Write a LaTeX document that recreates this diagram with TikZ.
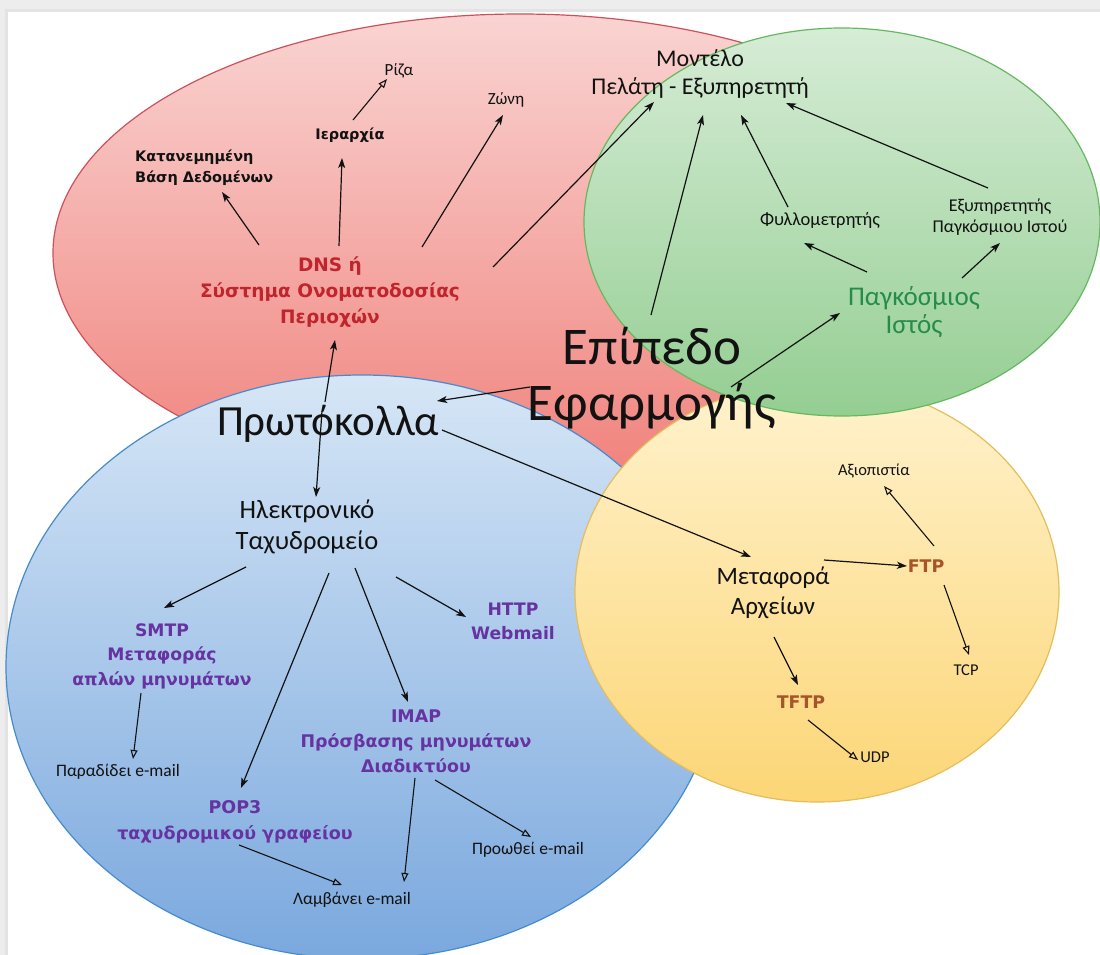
\documentclass[tikz,border=0pt]{standalone}
\usepackage{fontspec}
\setmainfont{Carlito}
\newfontfamily\dvsans{DejaVu Sans}
\usetikzlibrary{arrows.meta}

\definecolor{ink}{RGB}{18,18,18}
\definecolor{dnsred}{RGB}{192,36,44}
\definecolor{webgreen}{RGB}{38,140,74}
\definecolor{mailpurple}{RGB}{102,51,160}
\definecolor{ftpbrown}{RGB}{168,84,40}
\definecolor{redtop}{RGB}{249,212,210}
\definecolor{redbot}{RGB}{240,128,122}
\definecolor{redline}{RGB}{205,80,90}
\definecolor{greentop}{RGB}{214,236,214}
\definecolor{greenbot}{RGB}{148,206,146}
\definecolor{greenline}{RGB}{100,185,95}
\definecolor{bluetop}{RGB}{214,230,246}
\definecolor{bluebot}{RGB}{122,168,222}
\definecolor{blueline}{RGB}{70,140,205}
\definecolor{yeltop}{RGB}{255,242,205}
\definecolor{yelbot}{RGB}{252,214,118}
\definecolor{yelline}{RGB}{228,190,90}

\newcommand\setfs[2]{\fontsize{#1}{#2}\selectfont}

\tikzset{
  zone/.style={line width=1.2pt},
  redzone/.style={zone, draw=redline, top color=redtop, bottom color=redbot},
  greenzone/.style={zone, draw=greenline, top color=greentop, bottom color=greenbot},
  bluezone/.style={zone, draw=blueline, top color=bluetop, bottom color=bluebot},
  yelzone/.style={zone, draw=yelline, top color=yeltop, bottom color=yelbot},
  lbl/.style={inner sep=0pt, align=center, text=ink},
  bld/.style={lbl, font=\dvsans\bfseries\setfs{17.4}{25}},
  small/.style={lbl, font=\setfs{17.5}{21}},
  conn/.style={line width=1.2pt, draw=ink, -{Stealth[length=10pt,width=7pt,inset=2.5pt]}},
  oconn/.style={line width=1.1pt, draw=ink, -{Triangle[open,length=9pt,width=7pt]}}
}

\begin{document}
\begin{tikzpicture}[x=1pt,y=-1pt]
\useasboundingbox (0,0) rectangle (1100,955);
% page and its soft edge
\fill[black!7] (0,0) rectangle (1100,955);
\fill[black!11] (5,9) rectangle (1100,955);
\fill[white] (8,12) rectangle (1100,955);

% the four areas
\draw[redzone] (520,253) ellipse [x radius=467pt, y radius=239pt];
\draw[bluezone] (362,667) ellipse [x radius=356pt, y radius=292pt];
\draw[yelzone] (817,592) ellipse [x radius=242pt, y radius=210pt];
\draw[greenzone] (842,222) ellipse [x radius=258pt, y radius=194pt];

% centre
\node[lbl, font=\setfs{53}{56}] (app) at (652,378) {Επίπεδο\\Εφαρμογής};
\node[lbl, font=\setfs{43}{46}] (proto) at (328,424) {Πρωτόκολλα};

% naming system
\node[bld, text=dnsred, font=\dvsans\bfseries\setfs{18.5}{26}] (dns) at (330,292) {DNS ή\\Σύστημα Ονοματοδοσίας\\Περιοχών};
\node[bld, align=left, anchor=west, font=\dvsans\bfseries\setfs{14.5}{21}] (kat) at (135,168) {Κατανεμημένη\\Βάση Δεδομένων};
\node[bld, font=\dvsans\bfseries\setfs{14.5}{21}] (ier) at (350,135) {Ιεραρχία};
\node[lbl, font=\setfs{17}{21}] (riza) at (399,71) {Ρίζα};
\node[lbl, font=\setfs{17}{21}] (zoni) at (506,100) {Ζώνη};

% client - server, web
\node[lbl, font=\setfs{24}{28}] (model) at (700,74) {Μοντέλο\\Πελάτη - Εξυπηρετητή};
\node[lbl, font=\setfs{18.5}{21}] (fyllo) at (820,220) {Φυλλομετρητής};
\node[lbl, font=\setfs{18}{21}] (server) at (1000,217) {Εξυπηρετητής\\Παγκόσμιου Ιστού};
\node[lbl, text=webgreen, font=\setfs{27}{28}] (www) at (914,312) {Παγκόσμιος\\Ιστός};

% e-mail
\node[lbl, font=\setfs{26.5}{31}] (email) at (307,527) {Ηλεκτρονικό\\Ταχυδρομείο};
\node[bld, text=mailpurple, font=\dvsans\bfseries\setfs{17.2}{24.5}] (smtp) at (162,656) {SMTP\\Μεταφοράς\\απλών μηνυμάτων};
\node[bld, text=mailpurple, font=\dvsans\bfseries\setfs{17.2}{24}] (http) at (513,621) {HTTP\\Webmail};
\node[bld, text=mailpurple] (imap) at (416,741) {IMAP\\Πρόσβασης μηνυμάτων\\Διαδικτύου};
\node[bld, text=mailpurple, font=\dvsans\bfseries\setfs{17.5}{26}] (pop3) at (235,822) {POP3\\ταχυδρομικού γραφείου};
\node[small] (parad) at (118,772) {Παραδίδει e-mail};
\node[small] (lamv) at (352,900) {Λαμβάνει e-mail};
\node[small] (proo) at (528,850) {Προωθεί e-mail};

% file transfer
\node[lbl, font=\setfs{25}{30}] (metaf) at (773,593) {Μεταφορά\\Αρχείων};
\node[bld, text=ftpbrown] (ftp) at (926,566) {FTP};
\node[bld, text=ftpbrown] (tftp) at (801,702) {TFTP};
\node[lbl, font=\setfs{16.5}{20}] (axio) at (874,471) {Αξιοπιστία};
\node[lbl, font=\setfs{16.5}{20}] (tcp) at (966,670) {TCP};
\node[lbl, font=\setfs{16.5}{20}] (udp) at (875,757) {UDP};

% connectors
\draw[conn] ([shift={(-71,-47)}]dns.center) -- ([shift={(87,24)}]kat.west);
\draw[conn] ([shift={(9,-46)}]dns.center) -- ([shift={(-8,23)}]ier.center);
\draw[oconn] ([shift={(3,-15)}]ier.center) -- ([shift={(-12,8)}]riza.center);
\draw[conn] ([shift={(92,-45)}]dns.center) -- ([shift={(-3,15)}]zoni.center);
\draw[conn] ([shift={(163,-25)}]dns.center) -- ([shift={(-46,28)}]model.center);
\draw[conn] ([shift={(-1,-63)}]app.center) -- ([shift={(3,41)}]model.center);
\draw[conn] ([shift={(-32,-13)}]fyllo.center) -- ([shift={(41,41)}]model.center);
\draw[conn] ([shift={(-12,-29)}]server.center) -- ([shift={(86,29)}]model.center);
\draw[conn] ([shift={(-47,-40)}]www.center) -- ([shift={(-16,23)}]fyllo.center);
\draw[conn] ([shift={(48,-34)}]www.center) -- ([shift={(0,26)}]server.center);
\draw[conn] ([shift={(79,9)}]app.center) -- ([shift={(-74,1)}]www.center);
\draw[conn] ([shift={(-122,9)}]app.center) -- ([shift={(109,-23)}]proto.center);
\draw[conn] ([shift={(-3,-22)}]proto.center) -- ([shift={(5,48)}]dns.center);
\draw[conn] ([shift={(-6,-13)}]proto.center) -- ([shift={(9,-30)}]email.center);
\draw[conn] ([shift={(114,6)}]proto.center) -- ([shift={(-22,-36)}]metaf.center);
\draw[conn] ([shift={(-61,40)}]email.center) -- ([shift={(2,-48)}]smtp.center);
\draw[conn] ([shift={(22,46)}]email.center) -- ([shift={(6,-34)}]pop3.center);
\draw[conn] ([shift={(48,41)}]email.center) -- ([shift={(-8,-39)}]imap.center);
\draw[conn] ([shift={(89,50)}]email.center) -- ([shift={(-47,-4)}]http.center);
\draw[oconn] ([shift={(-21,37)}]smtp.center) -- ([shift={(15,-13)}]parad.center);
\draw[oconn] ([shift={(4,23)}]pop3.center) -- ([shift={(-10,-15)}]lamv.center);
\draw[oconn] ([shift={(-1,37)}]imap.center) -- ([shift={(52,-18)}]lamv.center);
\draw[oconn] ([shift={(19,39)}]imap.center) -- ([shift={(3,-13)}]proo.center);
\draw[conn] ([shift={(51,-33)}]metaf.center) -- ([shift={(-19,0)}]ftp.center);
\draw[conn] ([shift={(1,44)}]metaf.center) -- ([shift={(-3,-17)}]tftp.center);
\draw[oconn] ([shift={(8,-20)}]ftp.center) -- ([shift={(10,15)}]axio.center);
\draw[oconn] ([shift={(18,19)}]ftp.center) -- ([shift={(3,-15)}]tcp.center);
\draw[oconn] ([shift={(7,18)}]tftp.center) -- ([shift={(-17,3)}]udp.center);
\end{tikzpicture}
\end{document}
